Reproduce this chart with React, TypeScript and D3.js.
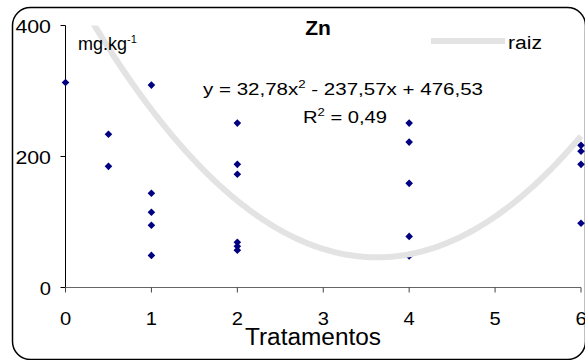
import React from "react";
import * as d3 from "d3";

// Zn content (mg/kg) per treatment level
const treatmentX = [0, 0.5, 0.5, 1, 1, 1, 1, 1, 2, 2, 2, 2, 2, 2, 4, 4, 4, 4, 4, 6, 6, 6, 6];
const znValues = [313, 234, 185, 309, 144, 115, 95, 49, 251, 188, 173, 69, 63, 57, 251, 222, 159, 78, 48, 217, 208, 188, 98];

// Quadratic trend fitted to the "raiz" series
const trendCoef = { a: 32.78, b: -237.57, c: 476.53 };
const r2 = "0,49";

const xTicks = [0, 1, 2, 3, 4, 5, 6];
const yTicks = [0, 200, 400];

const W = 585;
const H = 360;
const FONT = "'Liberation Sans', Arial, sans-serif";

export default function App() {
  const x = d3.scaleLinear().domain([0, 6]).range([65.5, 581]);
  const y = d3.scaleLinear().domain([0, 400]).range([287.5, 25.5]);

  const trendPts = d3.range(0, 6.0001, 0.02).map((t) => [
    t,
    trendCoef.a * t * t + trendCoef.b * t + trendCoef.c,
  ]);
  const trendLine = d3
    .line<number[]>()
    .x((d) => x(d[0]))
    .y((d) => y(d[1]))(trendPts);

  // square diamond marker, rotated square
  const r = 3.8;
  const diamond = `M0,${-r}L${r},0L0,${r}L${-r},0Z`;

  const digitW = 12.2;

  return (
    <svg
      width={W}
      height={H}
      style={{ position: "absolute", left: 0, top: 0, background: "#fff" }}
      fontFamily={FONT}
    >
      <defs>
        <clipPath id="plotClip">
          <rect x={x(0)} y={y(400)} width={x(6) - x(0) + 4} height={y(0) - y(400)} />
        </clipPath>
      </defs>

      {/* outer frame */}
      <rect x={12.5} y={7.5} width={573} height={352} rx={18} ry={18} fill="#fff" stroke="#000" strokeWidth={1.5} />

      {/* y axis */}
      <line x1={x(0)} x2={x(0)} y1={y(400)} y2={y(0)} stroke="#000" strokeWidth={1} />
      {yTicks.map((t) => {
        const s = String(t);
        return (
          <g key={"y" + t}>
            <line x1={x(0) - 5} x2={x(0)} y1={y(t)} y2={y(t)} stroke="#000" />
            <text
              x={52 - s.length * digitW}
              y={y(t) + 7}
              fontSize={18}
              fill="#000"
              textLength={s.length * digitW - 1}
              lengthAdjust="spacingAndGlyphs"
            >
              {s}
            </text>
          </g>
        );
      })}

      {/* x axis */}
      <line x1={x(0)} x2={x(6)} y1={y(0)} y2={y(0)} stroke="#666" strokeWidth={1} />
      {xTicks.map((t) => (
        <g key={"x" + t}>
          <line x1={x(t)} x2={x(t)} y1={y(0)} y2={y(0) + 5} stroke="#444" />
          <text
            x={x(t) - digitW / 2 + 0.5}
            y={325}
            fontSize={18}
            fill="#000"
            textLength={digitW - 1}
            lengthAdjust="spacingAndGlyphs"
          >
            {t}
          </text>
        </g>
      ))}
      <text x={245} y={345} fontSize={23} fill="#000" textLength={136} lengthAdjust="spacingAndGlyphs">
        Tratamentos
      </text>

      {/* data points */}
      {znValues.map((v, i) => (
        <path key={i} d={diamond} transform={`translate(${x(treatmentX[i])},${y(v)})`} fill="#000080" />
      ))}

      {/* trend line */}
      <path d={trendLine || ""} fill="none" stroke="#e3e3e3" strokeWidth={6} clipPath="url(#plotClip)" />

      {/* title */}
      <text x={318} y={35} textAnchor="middle" fontSize={21} fontWeight="bold" fill="#000">
        Zn
      </text>

      {/* unit label */}
      <text x={78} y={50} fontSize={18} fill="#000">
        mg.kg
        <tspan fontSize={11} dy={-7}>-1</tspan>
      </text>

      {/* legend */}
      <line x1={431} x2={505} y1={41} y2={41} stroke="#e3e3e3" strokeWidth={6} />
      <text x={508} y={49} fontSize={18} fill="#000" textLength={34} lengthAdjust="spacingAndGlyphs">
        raiz
      </text>

      {/* trend equation */}
      <text x={203} y={95} fontSize={17} fill="#000" textLength={280} lengthAdjust="spacingAndGlyphs">
        {`y = ${String(trendCoef.a).replace(".", ",")}x`}
        <tspan fontSize={11} dy={-7}>2</tspan>
        <tspan dy={7}>{` - ${String(-trendCoef.b).replace(".", ",")}x + ${String(trendCoef.c).replace(".", ",")}`}</tspan>
      </text>
      <text x={303} y={123} fontSize={17} fill="#000" textLength={84} lengthAdjust="spacingAndGlyphs">
        R
        <tspan fontSize={11} dy={-7}>2</tspan>
        <tspan dy={7}>{` = ${r2}`}</tspan>
      </text>
    </svg>
  );
}
